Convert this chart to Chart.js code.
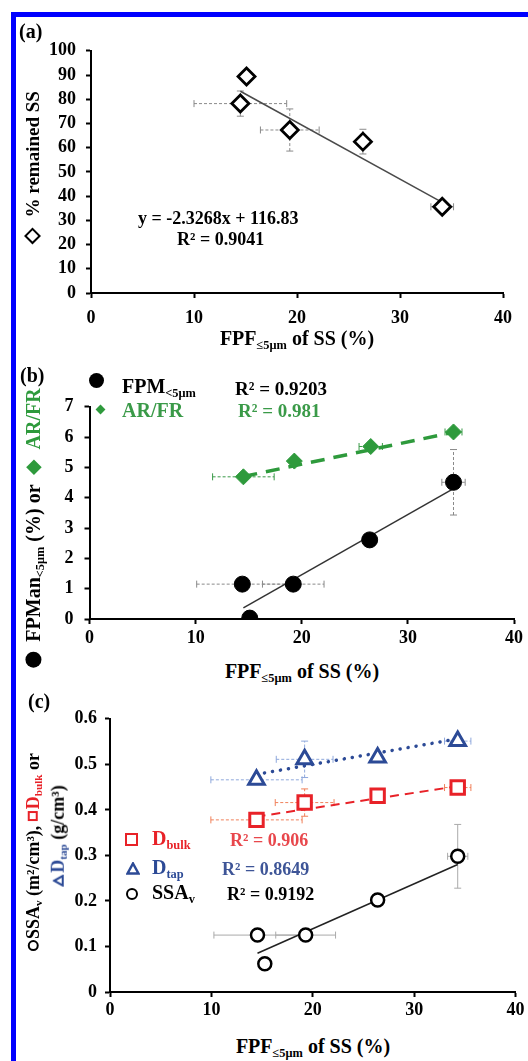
<!DOCTYPE html>
<html><head><meta charset="utf-8">
<script src="https://cdn.jsdelivr.net/npm/chart.js@4.4.1/dist/chart.umd.min.js"></script>
<style>
html,body{margin:0;padding:0;background:#fff;width:528px;height:1061px;overflow:hidden;}
#page{position:relative;width:528px;height:1061px;background:#fff;font-family:"Liberation Serif","Times New Roman",serif;font-weight:bold;color:#000;}
.bar{position:absolute;background:#0000ff;}
.cv{position:absolute;left:0;}
.t{position:absolute;white-space:nowrap;line-height:1;transform:translateY(-50%);}
.c{position:absolute;white-space:nowrap;line-height:1;transform:translate(-50%,-50%);}
.r{position:absolute;white-space:nowrap;line-height:1;transform:translate(-50%,-50%) rotate(-90deg);}
.sub{font-size:0.62em;vertical-align:-0.3em;}
.mk{position:absolute;box-sizing:border-box;}
.ib{display:inline-block;box-sizing:border-box;vertical-align:middle;position:relative;top:-0.1em;}
</style></head>
<body><div id="page">
<div class="bar" style="left:11px;top:12px;width:517px;height:5px"></div>
<div class="bar" style="left:11px;top:12px;width:5px;height:1049px"></div>

<canvas id="ca" class="cv" width="528" height="300" style="top:30px"></canvas>
<canvas id="cb" class="cv" width="528" height="270" style="top:385px"></canvas>
<canvas id="cc" class="cv" width="528" height="330" style="top:700px"></canvas>

<!-- panel (a) texts -->
<div class="t" style="left:19px;top:31px;font-size:20px">(a)</div>
<div class="r" style="left:32px;top:168px;font-size:19px"><span class="ib" style="width:12px;height:12px;border:2.5px solid #000;transform:rotate(45deg);margin:0 3px"></span>&nbsp;&nbsp;% remained SS</div>
<div class="t" style="left:138px;top:218px;font-size:18px">y = -2.3268x + 116.83</div>
<div class="t" style="left:177px;top:239px;font-size:18px">R² = 0.9041</div>
<div class="c" style="left:297px;top:340px;font-size:20px">FPF<span class="sub">≤5μm</span> of SS (%)</div>

<!-- panel (b) texts -->
<div class="t" style="left:20px;top:375px;font-size:20px">(b)</div>
<div class="mk" style="left:89px;top:373px;width:15px;height:15px;border-radius:50%;background:#000"></div>
<div class="t" style="left:122px;top:388px;font-size:20px">FPM<span class="sub">&lt;5μm</span></div>
<div class="t" style="left:235px;top:388px;font-size:19px">R² = 0.9203</div>
<div class="mk" style="left:97px;top:406px;width:7px;height:7px;background:#2e9a3c;transform:rotate(45deg)"></div>
<div class="t" style="left:122px;top:410px;font-size:20px;color:#3a9a48">AR/FR</div>
<div class="t" style="left:238px;top:410px;font-size:19px;color:#3a9a48">R² = 0.981</div>
<div class="r" style="left:35px;top:528px;font-size:20px"><span class="ib" style="width:16px;height:16px;border-radius:50%;background:#000"></span>&nbsp;&nbsp;FPMan<span class="sub">&lt;5μm</span> (%) or&nbsp;&nbsp;<span style="color:#2e9a3c"><span class="ib" style="width:11px;height:11px;background:#2e9a3c;transform:rotate(45deg);margin:0 2px"></span>&nbsp;&nbsp;AR/FR</span></div>
<div class="c" style="left:302px;top:673px;font-size:20px">FPF<span class="sub">≤5μm</span> of SS (%)</div>

<!-- panel (c) texts -->
<div class="t" style="left:28px;top:701px;font-size:20px">(c)</div>
<div class="mk" style="left:125px;top:833px;width:13px;height:13px;border:2.5px solid #e82228"></div>
<div class="t" style="left:152px;top:840px;font-size:20px;color:#e82228">D<span class="sub">bulk</span></div>
<div class="t" style="left:230px;top:840px;font-size:18px;color:#e8474c">R² = 0.906</div>
<svg class="mk" style="left:126px;top:862px" width="14" height="13"><polygon points="7,1.5 12.5,11.5 1.5,11.5" fill="none" stroke="#2c4a96" stroke-width="2.5"/></svg>
<div class="t" style="left:152px;top:869px;font-size:20px;color:#2c4a96">D<span class="sub">tap</span></div>
<div class="t" style="left:222px;top:869px;font-size:18px;color:#3e5597">R² = 0.8649</div>
<div class="mk" style="left:126px;top:888px;width:12px;height:12px;border:2.5px solid #000;border-radius:50%"></div>
<div class="t" style="left:152px;top:894px;font-size:20px">SSA<span class="sub">v</span></div>
<div class="t" style="left:227px;top:894px;font-size:18px">R² = 0.9192</div>
<div class="r" style="left:34px;top:852px;font-size:18px"><span class="ib" style="width:11px;height:11px;border:2.5px solid #000;border-radius:50%;margin-right:1px"></span>SSA<span class="sub">v</span> (m²/cm³), <span style="color:#e82228"><span class="ib" style="width:10px;height:10px;border:2px solid #e82228;margin-right:2px"></span>D<span class="sub">bulk</span></span> or</div>
<div class="r" style="left:59px;top:836px;font-size:18px"><span style="color:#2c4a96"><svg class="ib" width="12" height="11" style="margin-right:2px"><polygon points="6,1.5 10.8,10 1.2,10" fill="none" stroke="#2c4a96" stroke-width="2.2"/></svg>D<span class="sub">tap</span></span> (g/cm³)</div>
<div class="c" style="left:313px;top:1048px;font-size:20px">FPF<span class="sub">≤5μm</span> of SS (%)</div>
</div>

<script>
// ---------- data ----------
const xTickStep = 10;            // x ticks 0,10,20,30,40
// Panel (a): % remained SS vs FPF
const aFPF = [15.1, 14.5, 19.3, 26.4, 34.1];
const aRemained = [89.4, 78.2, 67.3, 62.5, 35.6];
const aFPFErr = [0, 4.5, 2.85, 0, 1.1];
const aRemainedErr = [0, 5.2, 8.7, 5.1, 0];
const aTrendX = [14.5, 34.1];
const aTrendY = [83.3, 37.4];
// Panel (b): FPMan<5um and AR/FR vs FPF
const bFPF = [14.4, 15.1, 19.2, 26.4, 34.3];
const bFPM = [1.15, 0.03, 1.15, 2.61, 4.51];
const bFPFErr = [4.3, 0, 2.9, 0, 1.1];
const bFPMErr = [0, 0, 0, 0, 1.08];
const bTrendX = [14.5, 34.3];
const bTrendY = [0.37, 4.30];
const bArFPF = [14.5, 19.3, 26.5, 34.3];
const bArFr = [4.69, 5.21, 5.69, 6.17];
const bArFPFErr = [2.9, 0, 1.1, 0.8];
const bArTrendX = [14.5, 34.3];
const bArTrendY = [4.70, 6.16];
// Panel (c): Dtap, Dbulk, SSAv vs FPF
const cFPF = [14.45, 19.2, 26.4, 34.3];
const cDtap = [0.466, 0.511, 0.515, 0.551];
const cDtapErrX = [4.5, 2.8, 0, 1.3];
const cDtapErrY = [0, 0.04, 0, 0];
const cDbulk = [0.378, 0.416, 0.431, 0.449];
const cDbulkErrX = [4.5, 2.9, 0, 1.3];
const cDbulkErrY = [0, 0.03, 0, 0];
const cSsaFPF = [14.55, 15.27, 19.3, 26.4, 34.3];
const cSsa = [0.125, 0.062, 0.125, 0.202, 0.298];
const cSsaErrX = [4.3, 0, 2.95, 0, 1.0];
const cSsaErrY = [0, 0, 0, 0, 0.07];
const cTrendX = [14.45, 34.3];
const cDtapTrendY = [0.478, 0.556];
const cDbulkTrendY = [0.385, 0.452];
const cSsaTrendX = [14.55, 34.3];
const cSsaTrendY = [0.085, 0.280];

// ---------- helpers ----------
const pts = (xs, ys) => xs.map((x, i) => ({x: x, y: ys[i]}));
const FONT = {family: 'Liberation Serif', size: 18, weight: 'bold'};

const errPlugin = {
  id: 'errbars',
  beforeDatasetsDraw(chart) {
    const ctx = chart.ctx, xs = chart.scales.x, ys = chart.scales.y;
    chart.data.datasets.forEach(ds => {
      if (!ds.errX && !ds.errY) return;
      ctx.save();
      ctx.strokeStyle = ds.errColor || '#888';
      ctx.lineWidth = 1;
      ds.data.forEach((p, i) => {
        const px = xs.getPixelForValue(p.x), py = ys.getPixelForValue(p.y);
        const ex = ds.errX ? ds.errX[i] : 0, ey = ds.errY ? ds.errY[i] : 0;
        if (ex > 0) {
          const x0 = xs.getPixelForValue(p.x - ex), x1 = xs.getPixelForValue(p.x + ex);
          ctx.setLineDash(ds.errDash || []);
          ctx.beginPath(); ctx.moveTo(x0, py); ctx.lineTo(x1, py); ctx.stroke();
          ctx.setLineDash([]);
          ctx.beginPath(); ctx.moveTo(x0, py - 3.5); ctx.lineTo(x0, py + 3.5);
          ctx.moveTo(x1, py - 3.5); ctx.lineTo(x1, py + 3.5); ctx.stroke();
        }
        if (ey > 0) {
          const y0 = ys.getPixelForValue(p.y - ey), y1 = ys.getPixelForValue(p.y + ey);
          ctx.setLineDash(ds.errDash || []);
          ctx.beginPath(); ctx.moveTo(px, y0); ctx.lineTo(px, y1); ctx.stroke();
          ctx.setLineDash([]);
          ctx.beginPath(); ctx.moveTo(px - 3.5, y0); ctx.lineTo(px + 3.5, y0);
          ctx.moveTo(px - 3.5, y1); ctx.lineTo(px + 3.5, y1); ctx.stroke();
        }
      });
      ctx.restore();
    });
  }
};

function scale(min, max, step, pad, fit, isY, fmt) {
  return {
    type: 'linear', min: min, max: max,
    ticks: {stepSize: step, color: '#000', font: FONT, padding: pad, maxRotation: 0, autoSkip: false,
            callback: fmt || (v => String(v))},
    grid: {display: true, drawOnChartArea: false, drawTicks: true, tickLength: 5, tickWidth: 2, tickColor: '#000'},
    border: {display: true, color: '#000', width: 2},
    afterFit: s => { if (isY) s.width = fit; else s.height = fit; }
  };
}

function makeChart(id, datasets, padding, xCfg, yCfg) {
  return new Chart(document.getElementById(id), {
    type: 'scatter',
    data: {datasets: datasets},
    options: {
      responsive: false, animation: false, devicePixelRatio: 1,
      layout: {padding: padding},
      plugins: {legend: {display: false}, tooltip: {enabled: false}},
      scales: {x: xCfg, y: yCfg}
    },
    plugins: [errPlugin]
  });
}

function marker(style, r, bw, border, fill) {
  return {pointStyle: style, pointRadius: r, pointBorderWidth: bw, pointBorderColor: border,
          pointBackgroundColor: fill, borderColor: border, backgroundColor: fill, showLine: false};
}
function trend(color, width, dash, cap) {
  return {showLine: true, pointRadius: 0, borderColor: color, borderWidth: width,
          borderDash: dash || [], borderCapStyle: cap || 'butt', fill: false};
}

// ---------- panel (a) ----------
makeChart('ca', [
  Object.assign({data: pts(aFPF, aRemained), errX: aFPFErr, errY: aRemainedErr, errColor: '#8a8a8a', errDash: [3, 2]},
                marker('rectRot', 8.5, 2.8, '#000', '#fff')),
  Object.assign({data: pts(aTrendX, aTrendY)}, trend('#4a4a4a', 1.5))
], {top: 18, left: 20, right: 25, bottom: 2},
  scale(0, 40, xTickStep, 10, 35, false),
  scale(0, 100, 10, 10, 71, true));

// ---------- panel (b) ----------
makeChart('cb', [
  Object.assign({data: pts(bFPF, bFPM), errX: bFPFErr, errY: bFPMErr, errColor: '#8a8a8a', errDash: [3, 2]},
                marker('circle', 8, 1, '#000', '#000')),
  Object.assign({data: pts(bArFPF, bArFr), errX: bArFPFErr, errColor: '#3a9a48', errDash: [3, 2]},
                marker('rectRot', 8, 1, '#2e9a3c', '#2e9a3c')),
  Object.assign({data: pts(bTrendX, bTrendY)}, trend('#333', 1.5)),
  Object.assign({data: pts(bArTrendX, bArTrendY)}, trend('#2e9a3c', 3.5, [14, 9]))
], {top: 16, left: 20, right: 14, bottom: 2},
  scale(0, 40, xTickStep, 4, 34, false),
  scale(0, 7, 1, 11, 69.5, true));

// ---------- panel (c) ----------
makeChart('cc', [
  Object.assign({data: pts(cFPF, cDtap), errX: cDtapErrX, errY: cDtapErrY, errColor: '#8fa8dc', errDash: [3, 2]},
                marker('triangle', 9, 3, '#2c4a96', '#fff')),
  Object.assign({data: pts(cFPF, cDbulk), errX: cDbulkErrX, errY: cDbulkErrY, errColor: '#f0805a', errDash: [3, 2]},
                marker('rect', 9.5, 3, '#e82228', '#fff')),
  Object.assign({data: pts(cSsaFPF, cSsa), errX: cSsaErrX, errY: cSsaErrY, errColor: '#aaaaaa'},
                marker('circle', 6.5, 2.5, '#000', '#fff')),
  Object.assign({data: pts(cTrendX, cDtapTrendY)}, trend('#2c4a96', 3.5, [0.1, 8], 'round')),
  Object.assign({data: pts(cTrendX, cDbulkTrendY)}, trend('#e82228', 2, [9, 6])),
  Object.assign({data: pts(cSsaTrendX, cSsaTrendY)}, trend('#222', 1.5))
], {top: 17, left: 20, right: 12, bottom: 2},
  scale(0, 40, xTickStep, 3, 36, false),
  scale(0, 0.6, 0.1, 8, 90, true, v => String(+v.toFixed(1))));
</script>
</body></html>
